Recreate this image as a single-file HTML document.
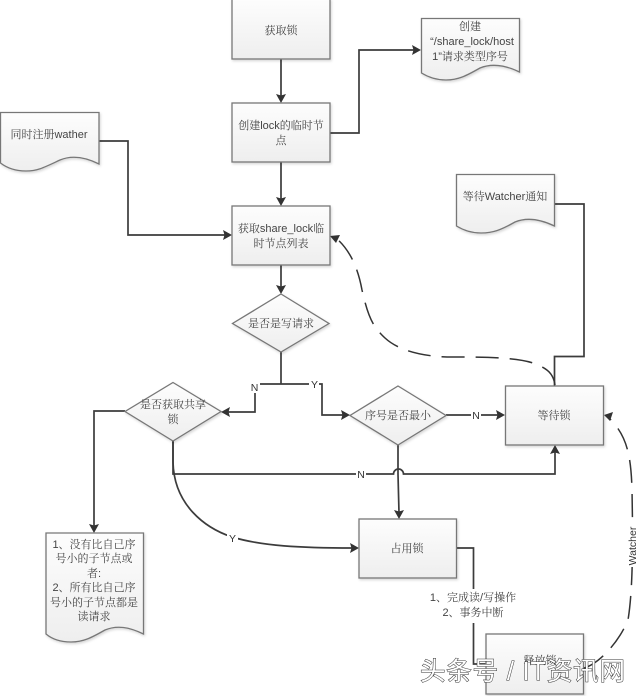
<!DOCTYPE html>
<html><head><meta charset="utf-8">
<style>
html,body{margin:0;padding:0;background:#fff;width:640px;height:696px;overflow:hidden}
svg{display:block;position:absolute;left:0;top:0}
text{font-family:"Liberation Sans","Noto Serif CJK SC",serif;font-size:11px;fill:#444;text-anchor:middle}
.s{fill:url(#g);stroke:#777;stroke-width:1.3;filter:url(#sh)}
.c{fill:none;stroke:#3c3c3c;stroke-width:1.7}
.d{fill:none;stroke:#333;stroke-width:1.5;stroke-dasharray:23 11}
.a{fill:#333}
.l{font-size:10.5px;fill:#333}
.wm{font-family:"Liberation Sans","Noto Sans CJK SC",sans-serif;font-size:25.5px;fill:#fff;stroke:#333;stroke-width:1;paint-order:stroke;text-anchor:start;font-weight:400}
</style></head><body>
<svg width="640" height="696" viewBox="0 0 640 696" xmlns="http://www.w3.org/2000/svg">
<defs>
<linearGradient id="g" x1="0" y1="0" x2="0" y2="1"><stop offset="0" stop-color="#fdfdfd"/><stop offset="1" stop-color="#eeeeee"/></linearGradient>
<filter id="sh" x="-10%" y="-10%" width="125%" height="125%"><feDropShadow dx="1" dy="1.5" stdDeviation="1.2" flood-color="#000" flood-opacity=".16"/></filter>
</defs>

<!-- connectors -->
<path class="c" d="M281 59V97M281 162V200M281 265V288"/>
<path class="c" d="M330 133H359V50H415"/>
<path class="c" d="M99 141H128V235H226"/>
<path class="c" d="M281 352V384M281 384H255V412H227M281 384H322V415H344"/>
<path class="c" d="M446 415H499"/>
<path class="c" d="M125 411H94V527"/>
<path class="c" d="M173 441V474H393.500A5 5 0 0 1 403.500 474H555V451"/>
<path class="c" d="M398 445V474M398 474L399 513"/>
<path class="c" d="M173 441V462C174 505 205 528 232 537C262 546 300 548 353 548"/>
<path class="c" d="M456 548H473.500V664H486"/>
<path class="c" d="M554 204H584V356.500H554.500V386"/>

<path class="d" d="M555 385C553 372 546 368 533 363C515 357 480 357 447 357C420 356 398 350 385 338C372 326 368 316 362 290C358 268 350 250 336 238"/>
<path class="d" d="M584 668C598 664 618 644 628 620C633 590 633 540 632 490C631 455 627 435 608 417"/>

<!-- arrowheads -->
<g class="a">
<path d="M281 103L276 94L281 95.500L286 94Z"/>
<path d="M281 206L276 197L281 198.500L286 197Z"/>
<path d="M281 294L276 285L281 286.500L286 285Z"/>
<path d="M421 50L412 45L413.500 50L412 55Z"/>
<path d="M232 235L223 230L224.500 235L223 240Z"/>
<path d="M221 412L230 407L228.500 412L230 417Z"/>
<path d="M350 415L341 410L342.500 415L341 420Z"/>
<path d="M505 415L496 410L497.500 415L496 420Z"/>
<path d="M94 533L89 524L94 525.500L99 524Z"/>
<path d="M555 445L550 454L555 452.500L560 454Z"/>
<path d="M399 519L394 510L399 511.500L404 510Z"/>
<path d="M359 548L350 543L351.500 548L350 553Z"/>
<path d="M330 236L340 235L336 243Z"/>
<path d="M604 415L613 412L610 421Z"/>
</g>

<!-- boxes -->
<rect class="s" x="232" y="-1" width="98" height="60"/>
<rect class="s" x="232" y="103" width="98" height="59"/>
<rect class="s" x="232" y="206" width="98" height="59"/>
<rect class="s" x="505.500" y="386" width="98" height="59"/>
<rect class="s" x="359" y="519" width="97.500" height="59"/>
<rect class="s" x="486" y="634" width="97.500" height="60"/>

<!-- diamonds -->
<path class="s" d="M281 294L329 323.500L281 352L232.500 323.500Z"/>
<path class="s" d="M173 382.500L221 411.500L173 441L125 411.500Z"/>
<path class="s" d="M398 386L446 415.500L398 445L350 415.500Z"/>

<!-- documents -->
<path class="s" d="M0.500 112.500H99V164C85 157 72 155 60 160C45 167 38 171 26 171C15 171 7 168 0.500 163Z"/>
<path class="s" d="M421.500 18.500H519.500V72C505 65 492 63 480 68C466 76 458 80 446 80C436 80 428 77 421.500 73Z"/>
<path class="s" d="M456.500 174.500H554.500V226C540 219 527 217 515 222C501 230 493 233 481 233C471 233 463 230 456.500 226Z"/>
<path class="s" d="M46 533H143.500V634C129 627 117 625 105 630C91 638 83 642 71 642C61 642 52 639 46 634Z"/>

<!-- labels -->
<text x="281" y="34">获取锁</text>
<text x="281" y="129">创建lock的临时节</text>
<text x="281" y="144">点</text>
<text x="281" y="232">获取share_lock临</text>
<text x="281" y="247">时节点列表</text>
<text x="281" y="327">是否是写请求</text>
<text x="173" y="408">是否获取共享</text>
<text x="173" y="423">锁</text>
<text x="398" y="419">序号是否最小</text>
<text x="554" y="419">等待锁</text>
<text x="407" y="552">占用锁</text>
<text x="49" y="138">同时注册wather</text>
<text x="470" y="30">创建</text>
<text x="472" y="45">“/share_lock/host</text>
<text x="470" y="60">1”请求类型序号</text>
<text x="505" y="200">等待Watcher通知</text>
<text x="94" y="548">1、没有比自己序</text>
<text x="94" y="562">号小的子节点或</text>
<text x="94" y="577">者:</text>
<text x="94" y="591">2、所有比自己序</text>
<text x="94" y="606">号小的子节点都是</text>
<text x="94" y="620">读请求</text>

<rect x="420" y="589" width="90" height="34" fill="#fff"/>
<text x="473" y="601" style="font-size:11px">1、完成读/写操作</text>
<text x="473" y="616" style="font-size:11px">2、事务中断</text>

<rect x="249" y="381" width="11" height="12" fill="#fff"/>
<text class="l" x="254.500" y="391">N</text>
<rect x="309" y="379" width="10" height="11" fill="#fff"/>
<text class="l" x="314.500" y="388">Y</text>
<rect x="356" y="468" width="10" height="12" fill="#fff"/>
<text class="l" x="361" y="478">N</text>
<rect x="471" y="409" width="10" height="12" fill="#fff"/>
<text class="l" x="476" y="419">N</text>
<rect x="227" y="532" width="11" height="12" fill="#fff"/>
<text class="l" x="232.500" y="542">Y</text>
<rect x="624" y="525" width="16" height="42" fill="#fff"/>
<text class="l" transform="translate(636 546) rotate(-90)">Watcher</text>

<text x="540" y="664" style="font-size:11px">释放锁</text>

<!-- watermark -->
<text class="wm" x="420" y="680" textLength="205" lengthAdjust="spacing">头条号 / IT资讯网</text>
</svg>
</body></html>
